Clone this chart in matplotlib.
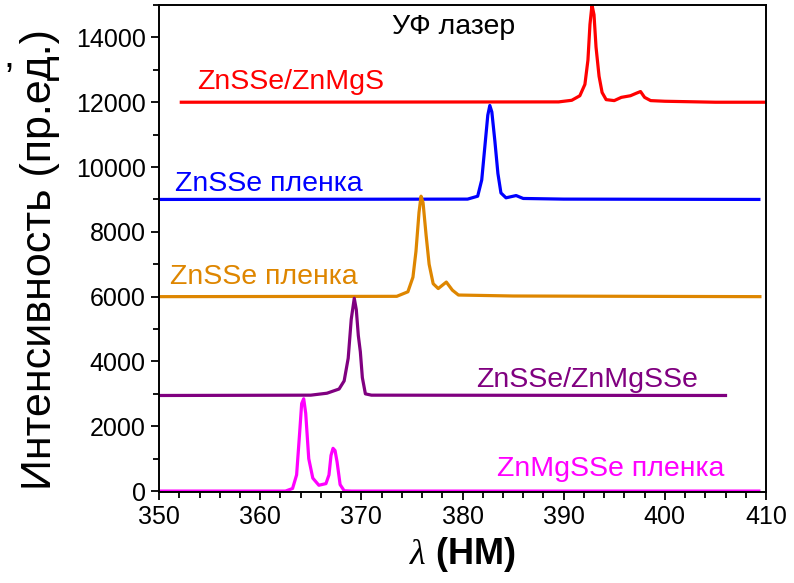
import numpy as np
import matplotlib
matplotlib.use("Agg")
import matplotlib.pyplot as plt
from matplotlib.ticker import MultipleLocator

plt.rcParams['font.family'] = ['Liberation Sans', 'DejaVu Sans']
plt.rcParams['mathtext.fontset'] = 'custom'
plt.rcParams['mathtext.it'] = 'Liberation Serif:italic'
plt.rcParams['mathtext.rm'] = 'Liberation Sans'

# spectra (wavelength nm, intensity a.u.)
red_x = [352.2, 389.5, 390.8, 391.6, 392.1, 392.4, 392.6, 392.8, 393.0, 393.2, 393.5, 393.8,
         394.2, 395.0, 395.7, 396.6, 397.2, 397.6, 398.0, 398.6, 400.0, 405.0, 410.0]
red_y = [12000, 12010, 12060, 12200, 12550, 13300, 14400, 15000, 14700, 13700, 12800, 12300,
         12080, 12050, 12150, 12200, 12280, 12330, 12150, 12050, 12030, 12000, 12000]

blue_x = [350.0, 380.5, 381.5, 381.9, 382.2, 382.5, 382.7, 382.9, 383.2, 383.5, 383.8, 384.3,
          385.3, 386.0, 390.0, 409.3]
blue_y = [9000, 9010, 9100, 9600, 10600, 11600, 11900, 11700, 10800, 9800, 9200, 9050,
          9120, 9030, 9010, 9000]

orange_x = [350.0, 373.5, 374.6, 375.1, 375.4, 375.7, 375.9, 376.1, 376.4, 376.7, 377.1,
            377.6, 378.0, 378.4, 379.0, 379.6, 385.0, 409.4]
orange_y = [6000, 6010, 6150, 6600, 7400, 8600, 9100, 8900, 7900, 7000, 6400,
            6250, 6350, 6450, 6200, 6050, 6020, 6000]

purple_x = [350.0, 365.0, 366.6, 367.8, 368.3, 368.7, 369.0, 369.3, 369.5, 369.7, 369.9,
            370.1, 370.4, 371.0, 406.0]
purple_y = [2950, 2960, 3020, 3150, 3400, 4100, 5300, 5950, 5600, 4800, 4300,
            3500, 3000, 2960, 2950]

magenta_x = [350.0, 362.5, 363.2, 363.6, 363.9, 364.1, 364.3, 364.5, 364.8, 365.2, 365.8,
             366.5, 366.8, 367.0, 367.2, 367.4, 367.6, 367.9, 368.3, 369.0, 409.3]
magenta_y = [0, 0, 80, 500, 1800, 2700, 2850, 2400, 1000, 400, 180,
             230, 500, 1100, 1320, 1250, 900, 200, 10, 0, 0]

fig = plt.figure(figsize=(7.94, 5.83), dpi=100)
ax = fig.add_axes([0.2003, 0.156, 0.7644, 0.8354])

lw = 2.3
ax.plot(red_x, red_y, color='#ff0000', lw=lw)
ax.plot(blue_x, blue_y, color='#0000ff', lw=lw)
ax.plot(orange_x, orange_y, color='#de8600', lw=lw)
ax.plot(purple_x, purple_y, color='#800080', lw=lw)
ax.plot(magenta_x, magenta_y, color='#ff00ff', lw=lw)

fs = 20.5
ax.text(373.0, 14320, 'УФ лазер', color='black', fontsize=fs, va='center')
ax.text(353.75, 12630, 'ZnSSe/ZnMgS', color='#ff0000', fontsize=fs, va='center')
ax.text(351.6, 9470, 'ZnSSe пленка', color='#0000ff', fontsize=fs, va='center')
ax.text(351.1, 6620, 'ZnSSe пленка', color='#de8600', fontsize=fs, va='center')
ax.text(381.3, 3430, 'ZnSSe/ZnMgSSe', color='#800080', fontsize=fs, va='center')
ax.text(383.4, 670, 'ZnMgSSe пленка', color='#ff00ff', fontsize=fs, va='center')

ax.set_xlim(350, 410)
ax.set_ylim(-30, 15000)
ax.xaxis.set_major_locator(MultipleLocator(10))
ax.xaxis.set_minor_locator(MultipleLocator(2))
ax.yaxis.set_major_locator(MultipleLocator(2000))
ax.yaxis.set_minor_locator(MultipleLocator(1000))
ax.tick_params(which='both', direction='out', top=False, right=False, width=1.3)
ax.tick_params(which='major', length=6, labelsize=18)
ax.tick_params(which='minor', length=4)
for s in ax.spines.values():
    s.set_linewidth(1.4)

ax.set_xlabel(r'$\lambda$ (НМ)', fontsize=26, fontweight='bold', labelpad=4)
ax.set_ylabel('Интенсивность (пр.ед.)', fontsize=31)
ax.yaxis.set_label_coords(-0.163, 0.478)

fig.text(0.004, 0.885, ',', fontsize=28)

fig.savefig('out.png', dpi=100)
